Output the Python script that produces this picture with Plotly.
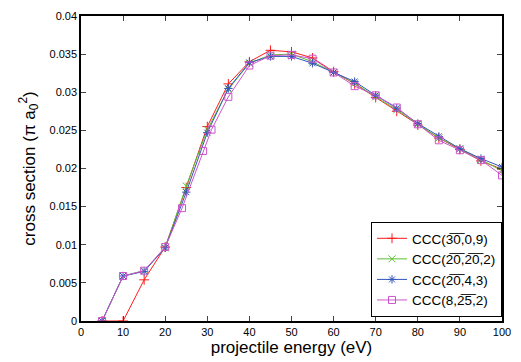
import plotly.graph_objects as go

OV = "\u0305"
def ov(s):
    return "".join(c + OV for c in s)

energy = [5, 10, 15, 20, 25, 30, 35, 40, 45, 50, 55, 60, 65, 70, 75, 80, 85, 90, 95, 100]
energy_m = [5, 10, 15, 20, 24, 29, 31, 35, 40, 45, 50, 55, 60, 65, 70, 75, 80, 85, 90, 95, 100]

cs_30_0_9 = [0, 0, 0.0054, 0.0097, 0.0175, 0.0255, 0.0311, 0.0340, 0.0355, 0.0353, 0.0345, 0.0327,
             0.0311, 0.0293, 0.0275, 0.0257, 0.0240, 0.0225, 0.0210, 0.0199]
cs_20_20_2 = [0, 0.0059, 0.0066, 0.0096, 0.0177, 0.0251, 0.0304, 0.0338, 0.0349, 0.0350, 0.0340, 0.0326,
              0.0312, 0.0294, 0.0277, 0.0258, 0.0240, 0.0226, 0.0211, 0.0197]
cs_20_4_3 = [0, 0.0059, 0.0065, 0.0096, 0.0169, 0.0247, 0.0305, 0.0339, 0.0347, 0.0347, 0.0338, 0.0326,
             0.0314, 0.0296, 0.0279, 0.0259, 0.0242, 0.0226, 0.0213, 0.0202]
cs_8_25_2 = [0, 0.0059, 0.0066, 0.0097, 0.0148, 0.0223, 0.0251, 0.0294, 0.0335, 0.0348, 0.0349, 0.0344,
             0.0326, 0.0308, 0.0296, 0.0280, 0.0258, 0.0237, 0.0224, 0.0211, 0.0191]

names = ["CCC(" + ov("30") + ",0,9)", "CCC(" + ov("20") + "," + ov("20") + ",2)",
         "CCC(" + ov("20") + ",4,3)", "CCC(8," + ov("25") + ",2)"]
colors = ["#ff1a1a", "#5cc033", "#3355bb", "#cc55cc"]
symbols = ["cross-thin-open", "x-thin-open", "asterisk-open", "square-open"]
xs = [energy, energy, energy, energy_m]
ys = [cs_30_0_9, cs_20_20_2, cs_20_4_3, cs_8_25_2]

fig = go.Figure()
for x, y, n, c, s in zip(xs, ys, names, colors, symbols):
    fig.add_trace(go.Scatter(x=x, y=y, name=n, mode="lines+markers",
                             line=dict(color=c, width=1),
                             marker=dict(symbol=s, size=7, color=c, line=dict(color=c, width=1))))

x_ticks = [0, 10, 20, 30, 40, 50, 60, 70, 80, 90, 100]
y_ticks = [0, 0.005, 0.01, 0.015, 0.02, 0.025, 0.03, 0.035, 0.04]
y_labels = ["0", "0.005", "0.01", "0.015", "0.02", "0.025", "0.03", "0.035", "0.04"]

fig.update_layout(
    width=521, height=362,
    margin=dict(l=81, r=10, t=16, b=37),
    paper_bgcolor="white", plot_bgcolor="white",
    font=dict(family="Liberation Sans, Arial, sans-serif", color="black", size=11),
    showlegend=True,
    legend=dict(x=1, y=0.013, xanchor="right", yanchor="bottom",
                bgcolor="white", bordercolor="black", borderwidth=1,
                font=dict(size=13.5), tracegroupgap=0),
    xaxis=dict(range=[0, 100], tickvals=x_ticks, ticks="inside", ticklen=5,
               showline=True, linecolor="black", linewidth=1.5, mirror="ticks",
               showgrid=False, zeroline=False, tickfont=dict(size=11),
               title=dict(text="projectile energy (eV)", font=dict(size=17), standoff=2)),
    yaxis=dict(range=[0, 0.04], tickvals=y_ticks, ticktext=y_labels, ticks="inside", ticklen=5,
               showline=True, linecolor="black", linewidth=1.5, mirror="ticks",
               showgrid=False, zeroline=False, tickfont=dict(size=11),
               title=dict(text="cross section (\u03c0 a<sub>0</sub><sup>2</sup>)", font=dict(size=17), standoff=10)),
)

fig.write_html("out.html", config={"displayModeBar": False},
               post_script="document.body.style.margin='0';document.body.style.overflow='hidden';")
